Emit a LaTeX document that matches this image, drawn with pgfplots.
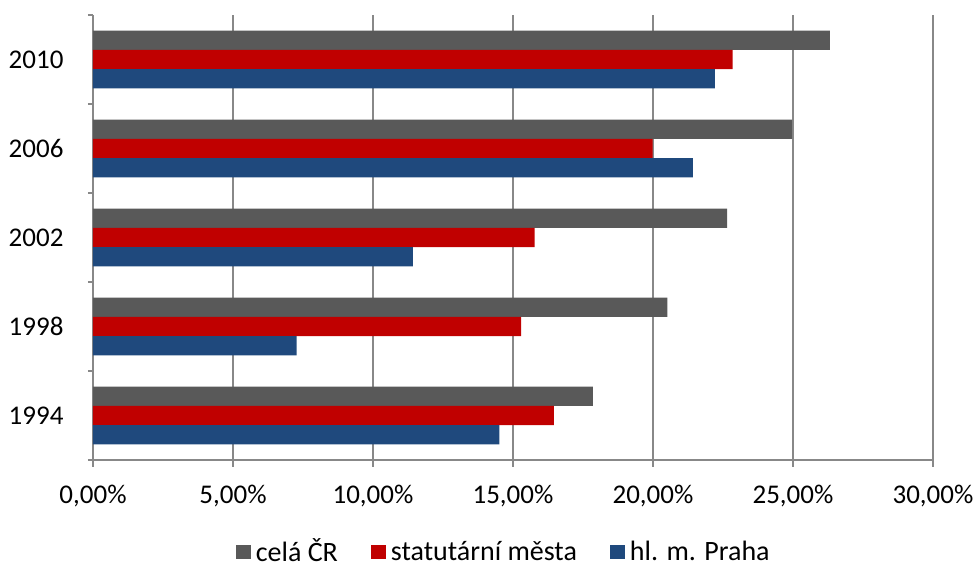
\documentclass[border=0pt]{standalone}
\usepackage{pgfplots}
\pgfplotsset{compat=1.18}
\usepackage{fontspec}
\setmainfont{Carlito}
\definecolor{cgray}{HTML}{595959}
\definecolor{cred}{HTML}{C00000}
\definecolor{cblue}{HTML}{1F497D}
\definecolor{gridc}{HTML}{888888}
\begin{document}
\begin{tikzpicture}
\begin{axis}[
  at={(0,0)}, anchor=south west,
  scale only axis, width=840pt, height=445pt,
  xbar, bar width=0.217,
  xmin=0, xmax=30, ymin=-0.5, ymax=4.5,
  axis x line*=bottom, axis y line*=left,
  axis line style={gridc, line width=1.3pt},
  xtick={0,5,10,15,20,25,30},
  xticklabels={{0,00\%},{5,00\%},{10,00\%},{15,00\%},{20,00\%},{25,00\%},{30,00\%}},
  xmajorgrids, grid style={gridc, line width=1.3pt},
  ytick={0,1,2,3,4}, yticklabels={1994,1998,2002,2006,2010},
  ytick style={draw=none},
  xtick style={draw=gridc, line width=1.3pt},
  tick align=outside, major tick length=7pt,
  extra y ticks={-0.5,0.5,1.5,2.5,3.5,4.5},
  extra y tick labels={},
  extra y tick style={ytick style={draw=gridc, line width=1.3pt}, major tick length=5pt, grid=none},
  tick label style={font=\fontsize{27}{31}\selectfont, text=black},
  xticklabel style={yshift=-15pt},
  yticklabel style={xshift=-19pt},
  legend style={at={(0.489,-0.205)}, anchor=center, draw=none, legend columns=3,
    font=\fontsize{28}{32}\selectfont,
    nodes={inner ysep=1pt},
    /tikz/every odd column/.append style={column sep=3pt},
    /tikz/every even column/.append style={column sep=31pt}},
  legend image code/.code={\fill[#1] (0pt,-8pt) rectangle (15pt,6pt);},
]
\addplot[fill=cgray, draw=none, bar shift=0.217] coordinates {(17.85,0) (20.51,1) (22.65,2) (24.97,3) (26.32,4)};
\addlegendentry{celá ČR}
\addplot[fill=cred, draw=none, bar shift=0] coordinates {(16.46,0) (15.29,1) (15.77,2) (19.99,3) (22.84,4)};
\addlegendentry{statutární města}
\addplot[fill=cblue, draw=none, bar shift=-0.217] coordinates {(14.51,0) (7.27,1) (11.42,2) (21.42,3) (22.21,4)};
\addlegendentry{hl. m. Praha}
\end{axis}
\pgfresetboundingbox
\path (-93pt,-107pt) rectangle (886pt,460pt);
\end{tikzpicture}
\end{document}
